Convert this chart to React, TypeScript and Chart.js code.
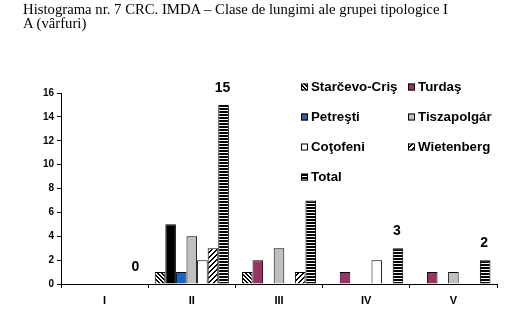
import React, { useEffect, useLayoutEffect, useRef } from "react";
import { Chart, registerables } from "chart.js";
Chart.register(...registerables);

const titleLine1 = "Histograma nr. 7 CRC. IMDA – Clase de lungimi ale grupei tipologice I";
const titleLine2 = "A (vârfuri)";
const categories = ["I", "II", "III", "IV", "V"];
const seriesNames = ["Starčevo-Criş", "Turdaş", "Petreşti", "Tiszapolgár", "Coţofeni", "Wietenberg", "Total"];
const starcevo = [0, 1, 1, 0, 0];
const turdas = [0, 5, 2, 1, 1];
const petresti = [0, 1, 0, 0, 0];
const tiszapolgar = [0, 4, 3, 0, 1];
const cotofeni = [0, 2, 0, 2, 0];
const wietenberg = [0, 3, 1, 0, 0];
const total = [0, 15, 7, 3, 2];
const totalLabels = ["0", "15", "", "3", "2"];
const yMin = 0;
const yMax = 16;
const yStep = 2;

function makePattern(w: number, h: number, isBlack: (x: number, y: number) => boolean) {
  const c = document.createElement("canvas");
  c.width = w;
  c.height = h;
  const ctx = c.getContext("2d")!;
  const img = ctx.createImageData(w, h);
  for (let y = 0; y < h; y++) {
    for (let x = 0; x < w; x++) {
      const i = (y * w + x) * 4;
      const v = isBlack(x, y) ? 0 : 255;
      img.data[i] = v;
      img.data[i + 1] = v;
      img.data[i + 2] = v;
      img.data[i + 3] = 255;
    }
  }
  ctx.putImageData(img, 0, 0);
  return ctx.createPattern(c, "repeat")!;
}

export default function App() {
  const ref = useRef<HTMLCanvasElement>(null);
  const titleRef = useRef<HTMLDivElement>(null);
  const line1Ref = useRef<HTMLSpanElement>(null);

  useLayoutEffect(() => {
    const w = line1Ref.current!.getBoundingClientRect().width;
    const target = 425;
    if (w > 0) titleRef.current!.style.transform = `scaleX(${target / w})`;
  }, []);

  useEffect(() => {
    const canvas = ref.current!;
    const pStarcevo = makePattern(4, 4, (x, y) => ((x - y) % 4 + 4) % 4 < 2);
    const pWiet = makePattern(5, 5, (x, y) => (x + y) % 5 < 2);
    const pTotal = makePattern(1, 3, (x, y) => y % 3 < 2);

    const fills: any[] = [pStarcevo, "#993366", "#1464C8", "#C0C0C0", "#FFFFFF", pWiet, pTotal];
    const legendFills: any[] = [pStarcevo, "#993366", "#2F5F9F", "#C0C0C0", "#FFFFFF", pWiet, pTotal];
    const values = [starcevo, turdas, petresti, tiszapolgar, cotofeni, wietenberg, total];

    const datasets = values.map((v, i) => ({
      label: seriesNames[i],
      data: v,
      backgroundColor: i === 1 ? v.map((_, j) => (j === 1 ? "#000000" : "#993366")) : fills[i],
      borderColor: "#000000",
      borderWidth: 1,
      categoryPercentage: 0.85,
      barPercentage: 1,
    }));

    const font = "Liberation Sans, Arial, sans-serif";

    const legendPlugin = {
      id: "customLegend",
      afterDraw(chart: any) {
        const ctx = chart.ctx;
        const colX = [301, 408];
        const rowY = [87, 117, 147, 177];
        ctx.save();
        ctx.font = `bold 13.3px ${font}`;
        ctx.textBaseline = "middle";
        ctx.textAlign = "left";
        chart.data.datasets.forEach((ds: any, i: number) => {
          const x = colX[i % 2];
          const y = rowY[Math.floor(i / 2)];
          ctx.fillStyle = legendFills[i];
          ctx.fillRect(x, y - 3.5, 7, 7);
          ctx.strokeStyle = "#000";
          ctx.lineWidth = 1;
          ctx.strokeRect(x + 0.5, y - 3.5 + 0.5, 6, 6);
          ctx.fillStyle = "#000";
          ctx.fillText(ds.label, x + 10, y + 0.5);
        });
        ctx.restore();
      },
    };

    const labelPlugin = {
      id: "totalLabels",
      afterDatasetsDraw(chart: any) {
        const meta = chart.getDatasetMeta(6);
        const ctx = chart.ctx;
        ctx.save();
        ctx.font = `bold 14px ${font}`;
        ctx.fillStyle = "#000";
        ctx.textAlign = "center";
        ctx.textBaseline = "middle";
        meta.data.forEach((el: any, i: number) => {
          if (totalLabels[i]) ctx.fillText(totalLabels[i], el.x - 1, el.y - 17);
        });
        ctx.restore();
      },
    };

    const chart = new Chart(canvas, {
      type: "bar",
      data: { labels: categories, datasets },
      options: {
        animation: false,
        responsive: false,
        layout: { padding: { top: 93, right: 14, left: 0, bottom: 0 } },
        plugins: { legend: { display: false }, title: { display: false }, tooltip: { enabled: false } },
        scales: {
          x: {
            grid: { display: true, drawOnChartArea: false, drawTicks: true, tickLength: 4, color: "#000", offset: true },
            border: { display: true, color: "#000", width: 1 },
            ticks: { color: "#000", font: { family: font, size: 11, weight: "bold" }, padding: 6 },
            afterFit: (s: any) => { s.height = 48; },
          },
          y: {
            min: yMin,
            max: yMax,
            grid: { display: true, drawOnChartArea: false, drawTicks: true, tickLength: 4, color: "#000" },
            border: { display: true, color: "#000", width: 1 },
            ticks: { stepSize: yStep, color: "#000", font: { family: font, size: 10, weight: "bold" }, padding: 3 },
            afterFit: (s: any) => { s.width = 61; },
          },
        },
      },
      plugins: [legendPlugin, labelPlugin],
    });
    return () => chart.destroy();
  }, []);

  return (
    <>
      <div
        ref={titleRef}
        style={{
          position: "absolute",
          left: 23,
          top: 2,
          fontFamily: "'Liberation Serif', 'Times New Roman', serif",
          fontSize: 15,
          lineHeight: "14px",
          whiteSpace: "nowrap",
          color: "#000",
          zIndex: 1,
          transformOrigin: "0 0",
        }}
      >
        <span ref={line1Ref}>{titleLine1}</span>
        <br />
        <span>{titleLine2}</span>
      </div>
      <canvas ref={ref} width={511} height={332} style={{ position: "absolute", left: 0, top: 0 }} />
    </>
  );
}
